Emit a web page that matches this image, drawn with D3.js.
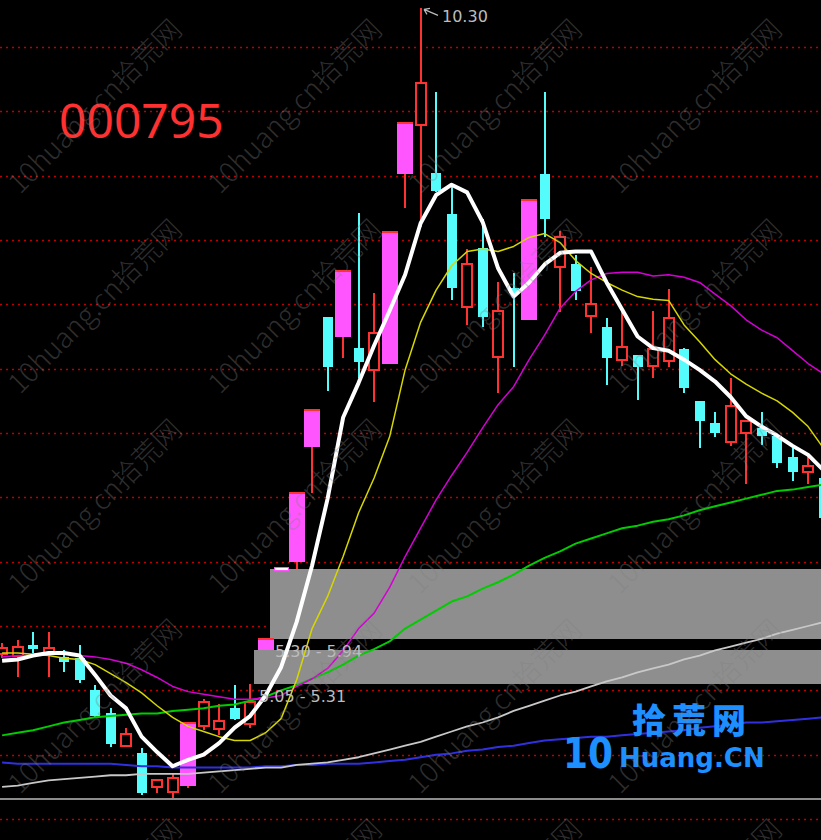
<!DOCTYPE html>
<html><head><meta charset="utf-8">
<script src="https://cdn.jsdelivr.net/npm/d3@7"></script>
<style>html,body{margin:0;padding:0;background:#000;overflow:hidden}</style>
</head><body>
<svg id="c" width="821" height="840"></svg>
<script>
// ---------------- data ----------------
const stockCode = "000795";
const dayIndex = d3.range(54);
const opens  = [5.28,5.27,5.35,5.29,5.26,5.25,5.00,4.82,4.57,4.51, 4.25,4.21,4.26,4.72,4.70,4.86,4.74,5.31,5.94,6.00, 6.89,7.90,7.75,7.66,7.49,7.54,9.01,9.39,9.02,8.70, 7.98,8.44,7.59,8.13,7.88,9.01,8.29,8.31,7.91,7.82, 7.57,7.61,7.52,7.56,7.65,7.25,7.08,6.93,7.00,7.04, 6.98,6.81,6.70,6.65];
const highs  = [5.37,5.39,5.45,5.45,5.31,5.35,5.04,4.86,4.71,4.55, 4.31,4.36,4.75,4.93,4.89,5.04,5.05,5.40,5.94,6.53, 7.18,7.90,8.26,8.71,8.09,8.56,9.41,10.30,9.65,8.91, 8.43,8.66,8.17,8.24,8.82,9.65,8.57,8.38,8.29,7.89, 7.94,7.61,7.95,8.12,7.66,7.25,7.16,7.43,7.10,7.16, 6.98,6.88,6.81,6.65];
const lows   = [5.25,5.10,5.29,5.10,5.14,5.06,4.79,4.56,4.56,4.19, 4.20,4.16,4.24,4.69,4.65,4.77,4.71,5.31,5.94,5.94, 6.53,7.33,7.58,7.43,7.24,7.54,8.75,8.60,8.87,8.03, 7.84,7.82,7.31,7.51,7.88,8.52,7.94,8.03,7.78,7.37, 7.52,7.26,7.43,7.51,7.31,6.88,6.97,6.90,6.60,6.91, 6.73,6.63,6.60,6.34];
const closes = [5.33,5.34,5.32,5.33,5.22,5.08,4.80,4.58,4.66,4.20, 4.30,4.32,4.75,4.91,4.76,4.78,4.91,5.40,5.94,6.53, 7.18,7.51,8.26,7.55,7.78,8.56,9.41,9.72,8.88,8.13, 8.31,7.90,7.95,8.09,8.81,8.66,8.52,8.10,8.00,7.58, 7.67,7.51,7.65,7.89,7.35,7.09,7.00,7.21,7.09,6.98, 6.77,6.70,6.74,6.34];
const limitUpDays = [12,17,18,19,20,22,25,26,34];

const ma5   = [5.23,5.24,5.27,5.29,5.29,5.27,5.12,4.96,4.86,4.64, 4.52,4.41,4.46,4.50,4.59,4.71,4.80,4.96,5.18,5.53, 5.97,6.49,7.12,7.39,7.68,7.95,8.23,8.63,8.85,8.93, 8.87,8.64,8.28,8.06,8.17,8.31,8.40,8.41,8.41,8.17, 7.96,7.75,7.66,7.64,7.57,7.49,7.40,7.28,7.13,7.05, 6.98,6.90,6.83,6.71];
const ma10  = [5.29,5.29,5.28,5.27,5.25,5.24,5.20,5.13,5.06,4.98, 4.88,4.79,4.72,4.68,4.64,4.61,4.61,4.67,4.78,5.08, 5.48,5.73,6.04,6.38,6.65,6.97,7.49,7.86,8.11,8.30, 8.41,8.43,8.41,8.45,8.52,8.55,8.48,8.34,8.24,8.17, 8.11,8.06,8.04,8.03,7.84,7.71,7.57,7.46,7.38,7.31, 7.25,7.16,7.05,6.88];
const ma20  = [5.26,5.27,5.27,5.28,5.29,5.27,5.26,5.24,5.21,5.16, 5.10,5.03,4.99,4.97,4.95,4.93,4.93,4.94,4.96,5.03, 5.09,5.17,5.31,5.48,5.60,5.80,6.04,6.26,6.48,6.67, 6.85,7.04,7.22,7.36,7.57,7.76,7.97,8.10,8.19,8.24, 8.25,8.25,8.22,8.23,8.21,8.17,8.08,7.99,7.88,7.80, 7.74,7.64,7.54,7.46];
const ma60  = [4.65,4.67,4.69,4.72,4.75,4.77,4.79,4.80,4.81,4.82, 4.82,4.84,4.85,4.86,4.88,4.89,4.92,4.95,5.00,5.04, 5.09,5.14,5.20,5.27,5.32,5.38,5.48,5.55,5.62,5.69, 5.73,5.79,5.84,5.90,5.97,6.03,6.08,6.14,6.18,6.22, 6.26,6.28,6.31,6.33,6.36,6.40,6.43,6.46,6.49,6.52, 6.55,6.56,6.58,6.60];
const ma120 = [4.25,4.26,4.28,4.30,4.31,4.32,4.33,4.34,4.34,4.35, 4.35,4.35,4.35,4.36,4.37,4.38,4.39,4.40,4.40,4.42, 4.43,4.44,4.46,4.48,4.51,4.54,4.57,4.60,4.64,4.68, 4.72,4.75,4.79,4.84,4.88,4.92,4.96,4.99,5.03,5.07, 5.10,5.14,5.17,5.20,5.24,5.27,5.31,5.34,5.37,5.40, 5.44,5.47,5.50,5.53];
const ma250 = [4.44,4.43,4.43,4.43,4.43,4.43,4.43,4.43,4.42,4.41, 4.41,4.40,4.40,4.40,4.40,4.40,4.40,4.41,4.41,4.42, 4.42,4.43,4.43,4.43,4.44,4.45,4.46,4.48,4.50,4.51, 4.53,4.54,4.56,4.57,4.59,4.61,4.62,4.63,4.64,4.64, 4.65,4.66,4.67,4.68,4.69,4.71,4.72,4.73,4.75,4.75, 4.76,4.77,4.78,4.79];

const gridLevels = [4.0,4.5,5.0,5.5,6.0,6.5,7.0,7.5,8.0,8.5,9.0,9.5,10.0];
const gapZones = [
  {label:"5.30 - 5.94", startDay:17, top:5.94, bottom:5.40},
  {label:"5.05 - 5.31", startDay:16, top:5.31, bottom:5.05}
];
const watermarkText = "10huang.cn拾荒网";
const logoCn = "拾荒网", logoNum = "10", logoEn = "Huang.CN";

// ---------------- drawing ----------------
const W = 821, H = 840;
const RED = "#ff3232", CYAN = "#54fcfc", PINK = "#ff55ff";
const svg = d3.select("#c");
svg.append("rect").attr("width", W).attr("height", H).attr("fill", "#000");

const x = d3.scalePoint().domain(dayIndex).range([2.1, 823.6]);
const y = d3.scaleLinear().domain([4, 10]).range([819, 47]);
const cx = i => Math.round(x(i));

// dotted grid
svg.append("g").selectAll("line").data(gridLevels).join("line")
  .attr("x1", 0).attr("x2", W)
  .attr("y1", d => Math.round(y(d)) + 0.5).attr("y2", d => Math.round(y(d)) + 0.5)
  .attr("stroke", "#c00000").attr("stroke-width", 1.3).attr("stroke-dasharray", "2 4");

// bottom separator
svg.append("line").attr("x1", 0).attr("x2", W).attr("y1", 799).attr("y2", 799)
  .attr("stroke", "#8c8c8c").attr("stroke-width", 2);

// gap zones
const zg = svg.append("g").attr("shape-rendering", "crispEdges");
gapZones.forEach(z => {
  const x0 = cx(z.startDay) + 4;
  zg.append("rect").attr("x", x0).attr("y", y(z.top))
    .attr("width", W - x0).attr("height", y(z.bottom) - y(z.top)).attr("fill", "#8e8e8e");
});

// candles
const cg = svg.append("g").attr("shape-rendering", "crispEdges");
dayIndex.forEach(i => {
  const o = opens[i], c = closes[i], h = highs[i], l = lows[i], X = cx(i);
  const lim = limitUpDays.includes(i);
  const up = c >= o;
  if (lim && h === l) {
    cg.append("rect").attr("x", X - 7).attr("y", y(c) - 1.5).attr("width", 14).attr("height", 3)
      .attr("fill", "#ffffff").attr("stroke", PINK).attr("stroke-width", 1);
    return;
  }
  const col = (lim || up) ? RED : CYAN;
  cg.append("rect").attr("x", X - 1).attr("y", y(h)).attr("width", 2)
    .attr("height", Math.max(1, y(l) - y(h))).attr("fill", col);
  const top = y(Math.max(o, c)), bot = y(Math.min(o, c)), hg = Math.max(2, bot - top);
  if (lim) {
    cg.append("rect").attr("x", X - 8).attr("y", top).attr("width", 16).attr("height", hg).attr("fill", PINK);
    cg.append("rect").attr("x", X - 8).attr("y", top - 1).attr("width", 16).attr("height", 2).attr("fill", RED);
  } else if (up) {
    cg.append("rect").attr("x", X - 5).attr("y", top).attr("width", 10).attr("height", hg)
      .attr("fill", "#000").attr("stroke", RED).attr("stroke-width", 2);
  } else {
    cg.append("rect").attr("x", X - 5).attr("y", top).attr("width", 10).attr("height", hg).attr("fill", CYAN);
  }
});

// moving averages
const lineGen = d3.line().x((d, i) => x(i)).y(d => y(d));
const maSpecs = [
  [ma250, "#3030e0", 2],
  [ma120, "#c8c8c8", 1.8],
  [ma60, "#00cc00", 2],
  [ma20, "#d400d4", 1.5],
  [ma10, "#d6d600", 1.5],
  [ma5, "#ffffff", 4]
];
const lg = svg.append("g").attr("fill", "none").attr("stroke-linejoin", "round");
maSpecs.forEach(([data, color, w]) => {
  lg.append("path").attr("d", lineGen(data)).attr("stroke", color).attr("stroke-width", w);
});

// zone labels
gapZones.forEach(z => {
  const x0 = cx(z.startDay) + 4;
  svg.append("text").attr("x", x0 + 5).attr("y", y(z.bottom) + 18)
    .attr("fill", "#bcbcbc").style("font-family", "'DejaVu Sans', sans-serif").style("font-size", "16px")
    .text(z.label);
});

// max high marker
const maxI = d3.maxIndex(highs);
const mx = cx(maxI), my = y(highs[maxI]);
svg.append("path")
  .attr("d", `M${mx + 17},${my + 7} L${mx + 3},${my + 1} M${mx + 3},${my + 1} l6,-1 M${mx + 3},${my + 1} l3,5`)
  .attr("stroke", "#bcbcbc").attr("stroke-width", 1.2).attr("fill", "none");
svg.append("text").attr("x", mx + 21).attr("y", my + 14)
  .attr("fill", "#bcbcbc").style("font-family", "'DejaVu Sans', sans-serif").style("font-size", "16px")
  .text(d3.format(".2f")(highs[maxI]));

// title
svg.append("text").attr("x", 59).attr("y", 138).attr("fill", "#ff3030")
  .style("font-family", "'Noto Sans', sans-serif").style("font-size", "48px").text(stockCode);

// logo
svg.append("text").attr("x", 632).attr("y", 733).attr("fill", "#1e8fff")
  .style("font-family", "'Noto Sans CJK SC'").style("font-weight", 900).style("font-size", "34px")
  .style("letter-spacing", "6px").text(logoCn);
svg.append("text").attr("x", 563).attr("y", 768).attr("fill", "#1e8fff")
  .attr("textLength", 50).attr("lengthAdjust", "spacingAndGlyphs")
  .style("font-family", "'DejaVu Sans'").style("font-weight", "bold").style("font-size", "42px").text(logoNum);
svg.append("text").attr("x", 619).attr("y", 767).attr("fill", "#1e8fff")
  .style("font-family", "'DejaVu Sans'").style("font-weight", "bold").style("font-size", "26px").text(logoEn);

// watermark
const wm = svg.append("g").attr("fill", "#808080").attr("fill-opacity", 0.36)
  .style("font-family", "'Noto Sans CJK SC'").style("font-weight", 300).style("font-size", "28px");
for (let r = 0; r < 5; r++) {
  for (let c = 0; c < 4; c++) {
    wm.append("text").attr("transform", `translate(${20 + 200 * c},${195 + 200 * r}) rotate(-45)`).text(watermarkText);
  }
}
</script>
</body></html>
